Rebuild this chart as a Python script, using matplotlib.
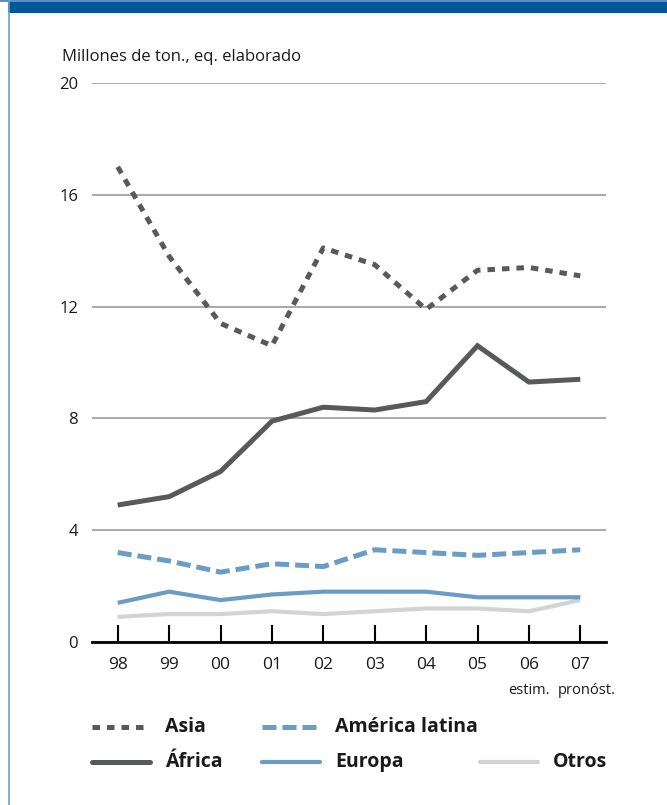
import matplotlib
matplotlib.use("Agg")
import matplotlib.pyplot as plt
from matplotlib.lines import Line2D
from matplotlib.patches import Rectangle

plt.rcParams['font.family'] = ['Open Sans', 'DejaVu Sans']

years = ["98", "99", "00", "01", "02", "03", "04", "05", "06", "07"]
year_notes = {"06": "estim.", "07": "pronóst."}

asia = [17.0, 13.8, 11.4, 10.6, 14.1, 13.5, 11.9, 13.3, 13.4, 13.1]
africa = [4.9, 5.2, 6.1, 7.9, 8.4, 8.3, 8.6, 10.6, 9.3, 9.4]
america_latina = [3.2, 2.9, 2.5, 2.8, 2.7, 3.3, 3.2, 3.1, 3.2, 3.3]
europa = [1.4, 1.8, 1.5, 1.7, 1.8, 1.8, 1.8, 1.6, 1.6, 1.6]
otros = [0.9, 1.0, 1.0, 1.1, 1.0, 1.1, 1.2, 1.2, 1.1, 1.5]

y_ticks = [0, 4, 8, 12, 16, 20]

DARK = "#58595b"
BLUE = "#6a9cc4"
LIGHT = "#d3d3d3"
TEXT = "#1a1a1a"
FRAME = "#00589a"

W, H = 667, 805
fig = plt.figure(figsize=(W / 100, H / 100), dpi=100)
fig.patch.set_facecolor("white")

# frame: top band and thin left rule
fig.add_artist(Rectangle((8 / W, 1 - 13 / H), 1 - 8 / W, 13 / H, transform=fig.transFigure,
                         facecolor=FRAME, edgecolor="none"))
fig.add_artist(Rectangle((0, 1 - 2 / H), 1, 2 / H, transform=fig.transFigure,
                         facecolor="#5d8fc0", edgecolor="none"))
fig.add_artist(Line2D([8.5 / W, 8.5 / W], [0, 1], transform=fig.transFigure,
                      color="#6f9fcc", lw=1.2))

ax = fig.add_axes([92 / W, (H - 642) / H, (606 - 92) / W, (642 - 83) / H])
x = list(range(len(years)))

series = [
    (asia, DARK, 3.6, (0, (1.5, 1.4))),
    (africa, DARK, 3.6, "-"),
    (america_latina, BLUE, 3.6, (0, (2.8, 1.2))),
    (europa, BLUE, 3.0, "-"),
    (otros, LIGHT, 3.0, "-"),
]
for vals, col, lw, ls in reversed(series):
    ax.plot(x, vals, color=col, lw=lw, linestyle=ls, solid_capstyle="butt",
            dash_capstyle="butt", solid_joinstyle="miter", clip_on=False)

ax.set_xlim(-0.5, 9.5)
ax.set_ylim(0, 20)
ax.set_yticks(y_ticks)
ax.set_yticklabels([str(v) for v in y_ticks], fontsize=12, color=TEXT)
ax.yaxis.grid(True, color="#9a9a9a", lw=1.2)
ax.set_axisbelow(True)
ax.tick_params(axis="y", length=0, pad=10)
ax.set_xticks(x)
ax.set_xticklabels(years, fontsize=12.5, color=TEXT)
ax.tick_params(axis="x", direction="in", length=12, width=1.5, color="black", pad=11)
for s in ("top", "right", "left"):
    ax.spines[s].set_visible(False)
ax.spines["bottom"].set_linewidth(2)
ax.spines["bottom"].set_color("black")

note_shift = {"06": 0, "07": 6}
for i, yr in enumerate(years):
    if yr in year_notes:
        ax.annotate(year_notes[yr], xy=(i, 0), xycoords="data",
                    xytext=(note_shift[yr] * 0.72, -35), textcoords="offset points",
                    ha="center", va="center", fontsize=10.5, color=TEXT,
                    annotation_clip=False)

fig.text(62 / W, 1 - 57 / H, "Millones de ton., eq. elaborado", fontsize=12,
         color=TEXT, va="center", ha="left")

# legend
legend_items = [
    ("Asia", DARK, 3.6, (0, (1.5, 1.4)), 92, 727),
    ("América latina", BLUE, 3.6, (0, (2.8, 1.2)), 262, 727),
    ("África", DARK, 3.6, "-", 92, 762),
    ("Europa", BLUE, 3.0, "-", 262, 762),
    ("Otros", LIGHT, 3.0, "-", 480, 762),
]
for label, col, lw, ls, x0, y0 in legend_items:
    fig.add_artist(Line2D([x0 / W, (x0 + 58) / W], [1 - y0 / H, 1 - y0 / H],
                          transform=fig.transFigure, color=col, lw=lw, linestyle=ls,
                          solid_capstyle="round", dash_capstyle="butt"))
    fig.text((x0 + 73) / W, 1 - y0 / H, label, fontsize=14, fontweight="bold",
             color=TEXT, va="center", ha="left")

fig.savefig("out.png", dpi=100, facecolor="white")
